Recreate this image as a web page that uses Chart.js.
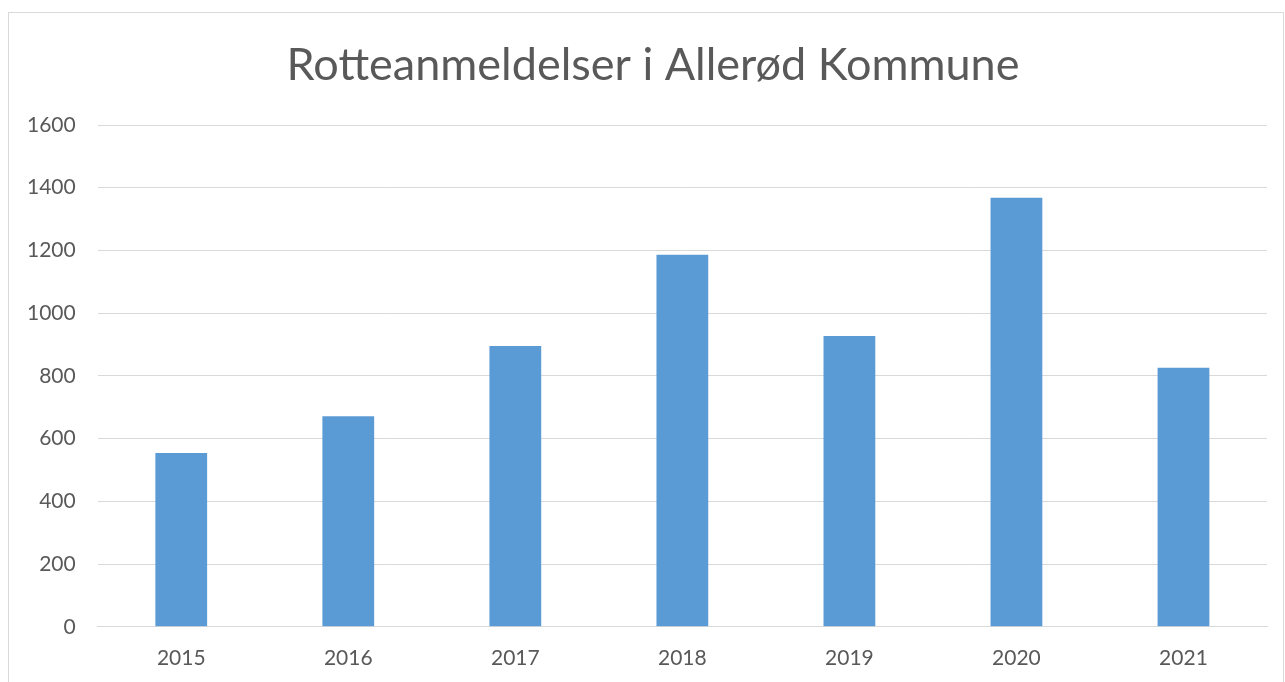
<!DOCTYPE html>
<html>
<head>
<meta charset="utf-8">
<script src="https://cdn.jsdelivr.net/npm/chart.js@4.4.0/dist/chart.umd.min.js"></script>
<style>
  html, body { margin: 0; padding: 0; background: #ffffff; overflow: hidden; width: 1285px; height: 682px; }
  #frame { position: absolute; left: 8px; top: 12px; width: 1276px; height: 690px; border: 1px solid #d9d9d9; box-sizing: border-box; }
  #wrap { position: absolute; left: 0; top: 0; width: 1285px; height: 691px; }
</style>
</head>
<body>
<div id="frame"></div>
<div id="wrap"><canvas id="c" width="1285" height="691"></canvas></div>
<script>
const categories = ["2015", "2016", "2017", "2018", "2019", "2020", "2021"];
const values = [554, 671, 895, 1186, 927, 1368, 826];
const yTicks = [0, 200, 400, 600, 800, 1000, 1200, 1400, 1600];
const titleText = "Rotteanmeldelser i Allerød Kommune";

const titlePlugin = {
  id: 'centeredTitle',
  afterDraw(chart) {
    const ctx = chart.ctx;
    ctx.save();
    ctx.font = 'normal 45px Lato';
    ctx.fillStyle = '#595959';
    ctx.textAlign = 'center';
    ctx.textBaseline = 'middle';
    ctx.fillText(titleText, 653, 65);
    ctx.restore();
  }
};

new Chart(document.getElementById('c'), {
  type: 'bar',
  data: {
    labels: categories,
    datasets: [{
      data: values,
      backgroundColor: '#5b9bd5',
      borderWidth: 0,
      barPercentage: 0.31,
      categoryPercentage: 1.0
    }]
  },
  plugins: [titlePlugin],
  options: {
    responsive: false,
    animation: false,
    layout: { padding: { left: 5, right: 18, top: 125, bottom: 1 } },
    plugins: {
      legend: { display: false },
      tooltip: { enabled: false },
      title: { display: false }
    },
    scales: {
      x: {
        grid: { display: false, drawTicks: false },
        border: { display: true, color: '#d9d9d9', width: 1 },
        ticks: { color: '#595959', font: { family: 'Lato', size: 21 }, padding: 19 }
      },
      y: {
        min: 0,
        max: 1600,
        afterBuildTicks: (axis) => { axis.ticks = yTicks.map(v => ({ value: v })); },
        grid: { color: '#d9d9d9', lineWidth: 1, drawTicks: false },
        border: { display: false },
        ticks: { color: '#595959', font: { family: 'Lato', size: 21 }, padding: 22, callback: (v) => String(v) }
      }
    }
  }
});
</script>
</body>
</html>
